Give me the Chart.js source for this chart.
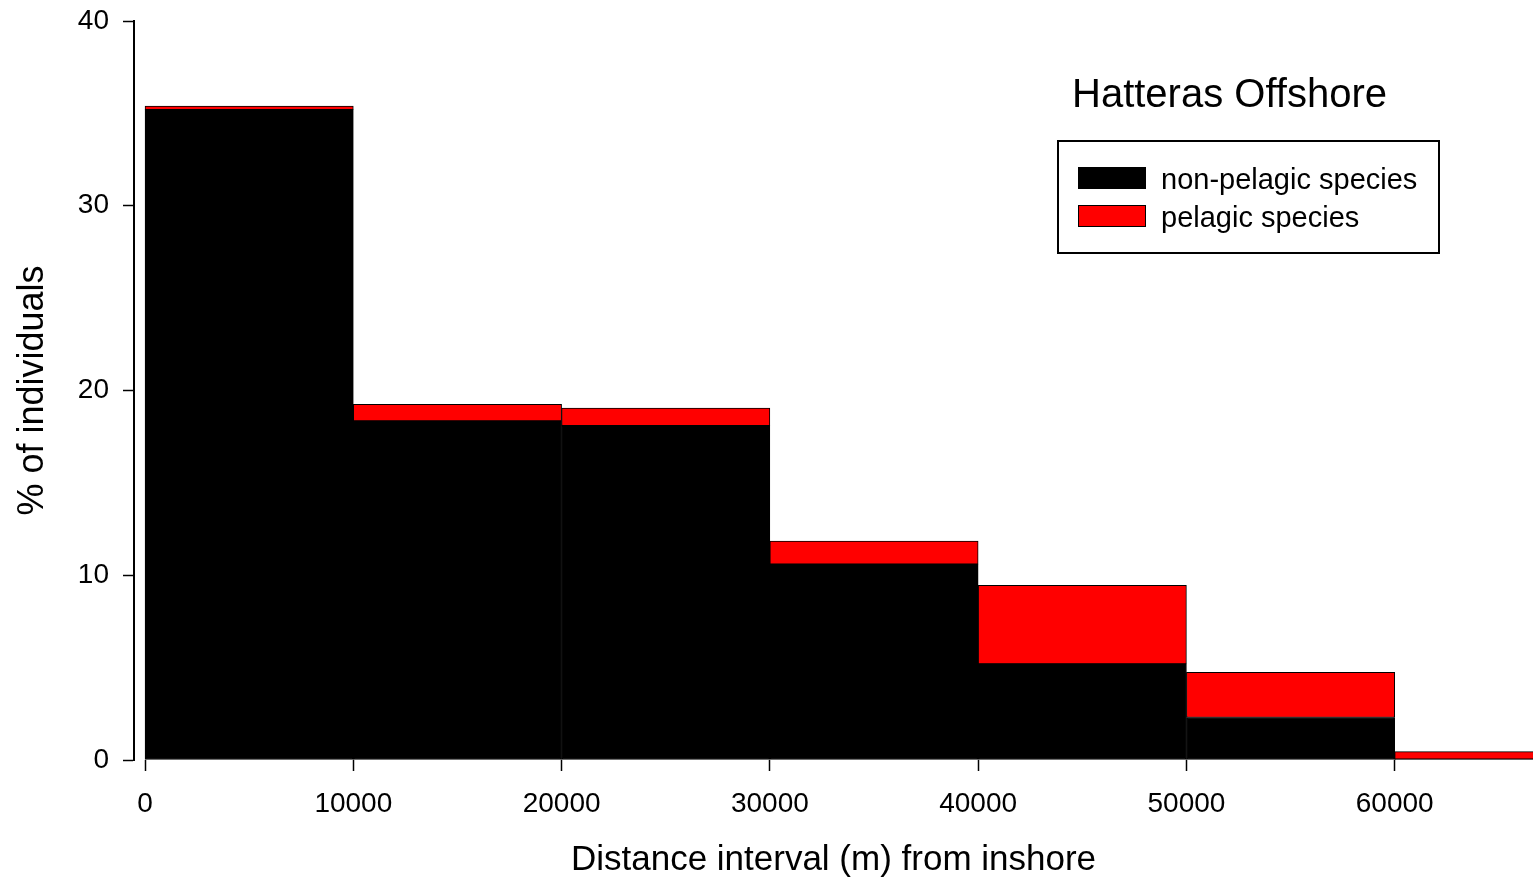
<!DOCTYPE html>
<html>
<head>
<meta charset="utf-8">
<script src="https://cdn.jsdelivr.net/npm/chart.js@4.4.1/dist/chart.umd.min.js"></script>
<style>
  html, body { margin: 0; padding: 0; background: #fff; }
  #wrap { width: 1533px; height: 885px; }
</style>
</head>
<body>
<div id="wrap"><canvas id="histo" width="1533" height="885"></canvas></div>
<script>
// bin centres (m) — each bin is 10000 m wide
const binCenters = [5000, 15000, 25000, 35000, 45000, 55000, 65000];
const nonPelagic = [35.2, 18.35, 18.1, 10.6, 5.2, 2.3, 0.05];
const pelagic = [0.2, 0.9, 0.95, 1.25, 4.25, 2.45, 0.4];
const xTicks = [0, 10000, 20000, 30000, 40000, 50000, 60000];
const yTicks = [0, 10, 20, 30, 40];
const seriesLabels = ["non-pelagic species", "pelagic species"];
const chartTitle = "Hatteras Offshore";

const FONT = "'Liberation Sans', Arial, sans-serif";

const toPoints = (vals) => binCenters.map((x, i) => ({ x: x, y: vals[i] }));

// legend box + title drawn by hand (top right, inside the plot)
const legendBox = {
  id: "legendBox",
  afterDraw(chart) {
    const ctx = chart.ctx;
    ctx.save();
    ctx.fillStyle = "#000";
    ctx.textBaseline = "alphabetic";
    ctx.textAlign = "left";
    ctx.font = "40px " + FONT;
    ctx.fillText(chartTitle, 1072, 107);

    ctx.lineWidth = 2;
    ctx.strokeStyle = "#000";
    ctx.strokeRect(1058, 141, 381, 112);

    const rows = [189, 227];
    chart.data.datasets.forEach((ds, i) => {
      const base = rows[i];
      ctx.fillStyle = ds.backgroundColor;
      ctx.fillRect(1078, base - 22, 68, 22);
      ctx.lineWidth = 1;
      ctx.strokeRect(1078.5, base - 21.5, 67, 21);
      ctx.fillStyle = "#000";
      ctx.font = "29px " + FONT;
      ctx.fillText(ds.label, 1161, base);
    });
    ctx.restore();
  }
};

new Chart(document.getElementById("histo").getContext("2d"), {
  type: "bar",
  data: {
    datasets: [
      {
        label: seriesLabels[0],
        data: toPoints(nonPelagic),
        backgroundColor: "#000000",
        borderColor: "#000000",
        borderWidth: 1,
        borderSkipped: false
      },
      {
        label: seriesLabels[1],
        data: toPoints(pelagic),
        backgroundColor: "#ff0000",
        borderColor: "#000000",
        borderWidth: 1,
        borderSkipped: false
      }
    ]
  },
  options: {
    responsive: false,
    animation: false,
    barPercentage: 1,
    categoryPercentage: 1,
    layout: { padding: { top: 21, right: 0, left: 0, bottom: 0 } },
    plugins: {
      legend: { display: false },
      tooltip: { enabled: false }
    },
    scales: {
      x: {
        type: "linear",
        stacked: true,
        offset: false,
        min: -530,
        max: 66640,
        afterBuildTicks: (s) => { s.ticks = xTicks.map(v => ({ value: v })); },
        afterFit: (s) => { s.height = 125; s.paddingLeft = 0; s.paddingRight = 0; },
        grid: { offset: false, drawOnChartArea: false, drawTicks: true, tickLength: 11, color: "#000", tickWidth: 1.5 },
        border: { display: false },
        ticks: {
          color: "#000",
          padding: 16,
          maxRotation: 0,
          autoSkip: false,
          font: { family: FONT, size: 28 },
          callback: (v) => String(v)
        },
        title: {
          display: true,
          text: "Distance interval (m) from inshore",
          color: "#000",
          font: { family: FONT, size: 35 },
          padding: { top: 0, bottom: 4 }
        }
      },
      y: {
        stacked: true,
        min: 0,
        max: 40,
        afterBuildTicks: (s) => { s.ticks = yTicks.map(v => ({ value: v })); },
        afterFit: (s) => { s.width = 134; s.paddingTop = 0; s.paddingBottom = 0; },
        grid: { drawOnChartArea: false, drawTicks: true, tickLength: 11, color: "#000", tickWidth: 1.5 },
        border: { display: true, color: "#000", width: 2 },
        ticks: {
          color: "#000",
          padding: 14,
          font: { family: FONT, size: 28 }
        },
        title: {
          display: true,
          text: "% of individuals",
          color: "#000",
          font: { family: FONT, size: 36 },
          padding: { top: 11, bottom: 0 }
        }
      }
    }
  },
  plugins: [legendBox]
});
</script>
</body>
</html>
